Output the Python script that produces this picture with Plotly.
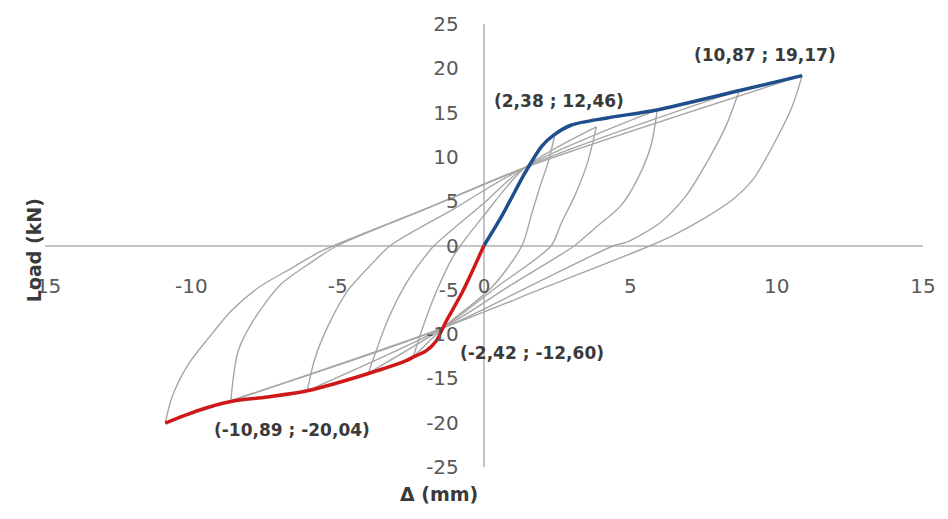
import plotly.graph_objects as go

# ---------------- data ----------------
x_ticks = [-15, -10, -5, 0, 5, 10, 15]
y_ticks = [-25, -20, -15, -10, -5, 0, 5, 10, 15, 20, 25]

# positive envelope (blue)
env_pos_x = [0.0, 0.62, 1.4, 1.97, 2.38, 2.99, 4.21, 5.9, 8.74, 10.87]
env_pos_y = [0.0, 3.4, 8.2, 11.2, 12.46, 13.6, 14.4, 15.3, 17.5, 19.17]

# negative envelope (red)
env_neg_x = [0.0, -0.73, -1.3, -1.64, -1.98, -2.42, -2.66, -4.0, -6.04, -7.4, -8.64, -9.76, -10.89]
env_neg_y = [0.0, -5.2, -8.6, -10.8, -11.9, -12.60, -13.0, -14.5, -16.4, -17.1, -17.6, -18.6, -20.04]

# hysteresis half-cycles (grey)
unload_1_x = [2.42, 2.2, 1.9, 1.64, 1.3, 0.3, -1.4, -2.42]
unload_1_y = [12.5, 9.5, 6.5, 3.7, 0.0, -4.6, -9.3, -12.6]
reload_1_x = [-2.42, -2.1, -1.6, -1.1, -0.8, 0.0, 1.4, 3.84]
reload_1_y = [-12.6, -9.3, -5.0, -1.5, 0.0, 3.4, 8.8, 13.4]

unload_2_x = [3.84, 3.53, 3.1, 2.65, 2.3, 0.45, -1.4, -3.95]
unload_2_y = [13.4, 9.3, 5.6, 2.6, 0.0, -4.65, -9.3, -14.4]
reload_2_x = [-3.95, -3.77, -3.3, -2.7, -2.1, -1.7, 0.0, 1.4, 5.92]
reload_2_y = [-14.4, -12.7, -8.5, -4.5, -1.6, 0.0, 4.8, 8.8, 15.3]

unload_3_x = [5.92, 5.7, 5.23, 4.68, 3.77, 3.1, 1.0, -1.4, -6.04]
unload_3_y = [15.3, 11.2, 7.4, 4.5, 1.9, 0.0, -4.3, -9.3, -16.4]
reload_3_x = [-6.04, -5.8, -5.36, -4.68, -3.77, -3.2, -1.0, 1.4, 8.72]
reload_3_y = [-16.4, -13.0, -9.3, -5.2, -1.85, 0.0, 4.2, 8.8, 17.5]

unload_4_x = [8.72, 8.27, 7.6, 6.9, 6.03, 4.9, 4.45, 1.5, -1.4, -8.65]
unload_4_y = [17.5, 13.5, 9.3, 5.6, 2.6, 0.4, 0.0, -4.7, -9.3, -17.5]
reload_4_x = [-8.65, -8.4, -7.83, -6.95, -6.04, -5.0, -2.0, 1.4, 10.87]
reload_4_y = [-17.5, -11.9, -8.2, -4.4, -2.2, 0.0, 4.1, 8.8, 19.17]

unload_5_x = [10.87, 10.53, 9.86, 9.18, 8.5, 7.49, 6.5, 5.7, 2.0, -1.4, -10.89]
unload_5_y = [19.17, 15.7, 11.2, 7.4, 5.2, 3.0, 1.2, 0.0, -4.85, -9.3, -20.04]
reload_5_x = [-10.89, -10.67, -10.1, -9.4, -8.64, -7.73, -6.6, -5.6, -4.0, -1.5, 1.4]
reload_5_y = [-20.04, -17.2, -13.4, -10.4, -7.4, -4.8, -2.6, -0.7, 1.5, 4.8, 8.8]

# annotated points
pt_x = [10.87, 2.38, -2.42, -10.89]
pt_y = [19.17, 12.46, -12.60, -20.04]

# ---------------- figure ----------------
fig = go.Figure()

grey = "#a6a6a6"
half_cycles = [
    (unload_1_x, unload_1_y), (reload_1_x, reload_1_y),
    (unload_2_x, unload_2_y), (reload_2_x, reload_2_y),
    (unload_3_x, unload_3_y), (reload_3_x, reload_3_y),
    (unload_4_x, unload_4_y), (reload_4_x, reload_4_y),
    (unload_5_x, unload_5_y), (reload_5_x, reload_5_y),
]
for hx, hy in half_cycles:
    fig.add_trace(go.Scatter(x=hx, y=hy, mode="lines",
                             line=dict(color=grey, width=1.4, shape="spline", smoothing=0.8),
                             hoverinfo="skip", showlegend=False))

fig.add_trace(go.Scatter(x=env_pos_x, y=env_pos_y, mode="lines",
                         line=dict(color="#1f4e8c", width=3.5, shape="spline", smoothing=0.8),
                         showlegend=False))
fig.add_trace(go.Scatter(x=env_neg_x, y=env_neg_y, mode="lines",
                         line=dict(color="#d01818", width=3.5, shape="spline", smoothing=0.8),
                         showlegend=False))

def fmt(v):
    return f"{v:.2f}".replace(".", ",")

shifts = [(-37, 21), (5, 34), (119, 4), (127, -7)]
for (px, py), (sx, sy) in zip(zip(pt_x, pt_y), shifts):
    fig.add_annotation(x=px, y=py, text=f"({fmt(px)} ; {fmt(py)})", showarrow=False,
                       xshift=sx, yshift=sy,
                       font=dict(family="DejaVu Sans", size=17, color="#3a3a3a", weight="bold"))

# axis titles
fig.add_annotation(xref="paper", yref="paper", x=(443 - 45) / 887, y=1 - (507 - 20) / 447,
                   text="Δ (mm)", showarrow=False,
                   font=dict(family="DejaVu Sans", size=19, color="#3a3a3a", weight="bold"))
fig.add_annotation(xref="paper", yref="paper", x=(21 - 45) / 887, y=1 - (248 - 20) / 447,
                   text="Load (kN)", showarrow=False, textangle=-90,
                   font=dict(family="DejaVu Sans", size=19, color="#3a3a3a", weight="bold"))

tickfont = dict(family="DejaVu Sans", size=20, color="#595959")
fig.update_layout(
    width=948, height=519,
    margin=dict(l=45, r=16, t=20, b=52),
    paper_bgcolor="white", plot_bgcolor="white",
    xaxis=dict(range=[-15, 15], tickvals=x_ticks, ticktext=[str(v) for v in x_ticks],
               anchor="free", position=0.4407, showline=False, showgrid=False,
               zeroline=True, zerolinecolor="#c4c4c4", zerolinewidth=1.5,
               ticks="", tickfont=tickfont),
    yaxis=dict(range=[-25, 25], tickvals=y_ticks, ticktext=[str(v) for v in y_ticks],
               anchor="free", position=0.4713, showline=False, showgrid=False,
               zeroline=True, zerolinecolor="#c4c4c4", zerolinewidth=1.5,
               ticks="", tickfont=tickfont),
)

fig.write_html("out.html", config={"displayModeBar": False},
               post_script="document.body.style.margin='0';")
